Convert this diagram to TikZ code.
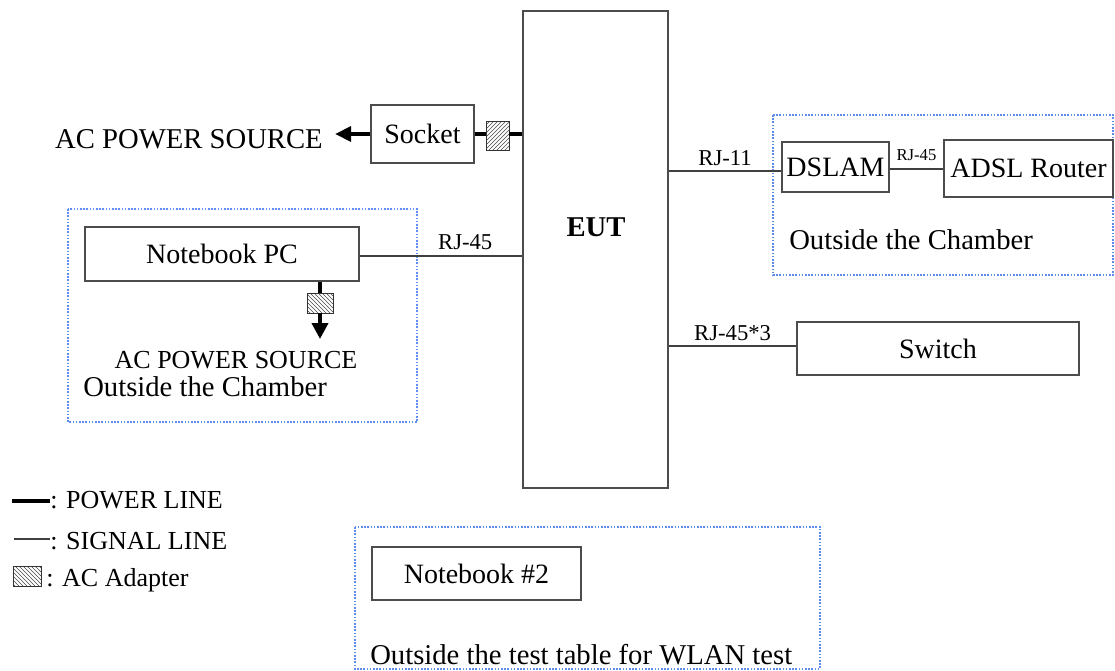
\documentclass[tikz,border=0pt]{standalone}
\usepackage{fontspec}
\setmainfont{Liberation Serif}
\usetikzlibrary{patterns,arrows.meta}
\definecolor{zoneblue}{RGB}{95,140,240}

\begin{document}
\begin{tikzpicture}[
  x=0.75pt, y=-0.75pt,
  box/.style={
    rectangle, draw=black!70, line width=0.9pt, inner sep=0pt,
    align=center, font=\fontsize{21}{24}\selectfont
  },
  adapter/.style={rectangle, draw=black!80, line width=0.6pt, inner sep=0pt},
  adapterne/.style={adapter, pattern=north east lines, pattern color=black!70},
  adapternw/.style={adapter, pattern=north west lines, pattern color=black!70},
  power/.style={draw=black, line width=2.8pt},
  signal/.style={draw=black!75, line width=0.8pt},
  zone/.style={draw=zoneblue, dash pattern=on 1.2pt off 1.2pt, line width=0.8pt},
  bigtxt/.style={font=\fontsize{21.5}{24}\selectfont, inner sep=0pt},
  midtxt/.style={font=\fontsize{19.5}{22}\selectfont, inner sep=0pt},
  rjtxt/.style={font=\fontsize{17}{19}\selectfont, inner sep=0pt},
  tinytxt/.style={font=\fontsize{12.5}{14}\selectfont, inner sep=0pt}
]
\useasboundingbox (0,0) rectangle (1115,671);

% --- Dotted zones ---
\draw[zone] (68,209) rectangle (417,422);
\draw[zone] (773,115) rectangle (1113,275);
\draw[zone] (355,527) rectangle (820,669);

% --- EUT ---
\node[box, line width=1.3pt, minimum width=108.75pt, minimum height=357.75pt] (eut) at (595.5,249.5) {};
\node[bigtxt, font=\fontsize{21.5}{24}\selectfont\bfseries] (eutlbl) at (596,227) {EUT};

% --- Socket and AC power ---
\node[box, minimum width=77.25pt, minimum height=43.5pt] (sock) at (422.5,134) {Socket};
\node[adapterne, minimum width=17.25pt, minimum height=22pt] (ad1) at (497.5,136) {};
\node[bigtxt, anchor=east] (acsrc) at (323,139) {AC POWER SOURCE};
\coordinate (actip) at (335,134);

\draw[power] (sock.east) -- (sock.east -| ad1.west);
\draw[power] (ad1.east |- sock.east) -- (sock.east -| eut.west);
\draw[power, -{Triangle[length=12pt,width=11pt]}] (sock.west) -- (actip);

% =========================================================
% LEFT: Notebook PC
% =========================================================
\node[box, minimum width=205.5pt, minimum height=40.5pt] (nb) at (222,254) {Notebook PC};
\node[adapternw, minimum width=19.5pt, minimum height=15pt] (ad2) at (320,303) {};
\coordinate (nbtip) at (320,339);

\draw[power] (nb.south -| ad2) -- (ad2.north);
\draw[power, -{Triangle[length=12pt,width=12pt]}] (ad2.south) -- (nbtip);

\draw[signal] (nb.east |- 0,256) -- (eut.west |- 0,256) node[rjtxt, pos=0.65, above=4.5pt] (rj1) {RJ-45};

\node[midtxt] (acsrc2) at (236,360) {AC POWER SOURCE};
\node[bigtxt, anchor=west] (out1) at (83,387) {Outside the Chamber};

% =========================================================
% RIGHT: DSLAM / ADSL Router
% =========================================================
\node[box, minimum width=80.25pt, minimum height=37.5pt] (dslam) at (835.5,167) {DSLAM};
\node[box, minimum width=126.75pt, minimum height=42.75pt] (router) at (1028.5,168.5) {ADSL Router};

\draw[signal] (eut.east |- dslam.west) ++(0,4) -- ([yshift=-3pt]dslam.west) node[rjtxt, midway, above=3.5pt] (rj2) {RJ-11};
\draw[signal] ([yshift=-1.5pt]dslam.east) -- ([yshift=-1.5pt]dslam.east -| router.west) node[tinytxt, midway, above=6pt] (rj3) {RJ-45};

\node[bigtxt, anchor=west] (out2) at (789,240) {Outside the Chamber};

% --- Switch ---
\node[box, minimum width=211.5pt, minimum height=39.75pt] (sw) at (938,348.5) {Switch};
\draw[signal] (eut.east |- 0,346) -- (sw.west |- 0,346) node[rjtxt, midway, above=3.5pt] (rj4) {RJ-45*3};

% =========================================================
% BOTTOM: Notebook #2
% =========================================================
\node[box, minimum width=156.75pt, minimum height=39.75pt] (nb2) at (476.5,573.5) {Notebook \#2};
\node[bigtxt, anchor=west] (out3) at (370,655) {Outside the test table for WLAN test};

% --- Legend ---
\node[midtxt, anchor=west] (lg1) at (50,500) {: POWER LINE};
\node[midtxt, anchor=west] (lg2) at (50,541) {: SIGNAL LINE};
\node[midtxt, anchor=west] (lg3) at (46,580) {: AC Adapter};
\draw[power] (lg1.west |- 0,501) -- ++(-38,0);
\draw[signal] (lg2.west |- 0,539) -- ++(-36,0);
\node[adapternw, minimum width=21pt, minimum height=15pt] (lgad) at (27.5,576.5) {};

\end{tikzpicture}
\end{document}
